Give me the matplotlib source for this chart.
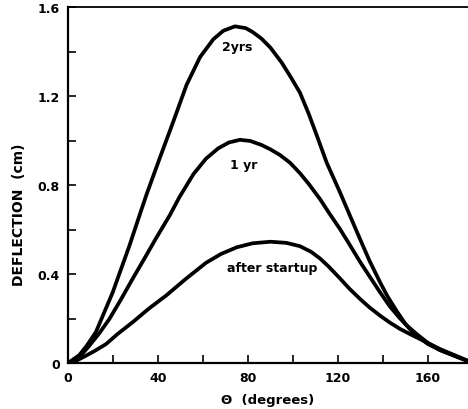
import matplotlib

matplotlib.use("Agg")
import matplotlib.pyplot as plt

# curves (theta in degrees, deflection in cm)
theta_2yrs = [0, 5, 8.5, 12.4, 16, 19.9, 23.5, 27.3, 32, 35, 40.9, 46.8,
              52.7, 58.7, 64.6, 69, 74.2, 79, 82, 86, 90, 95, 99, 103.1,
              107, 110.5, 115, 120.9, 125, 129.8, 134, 138.7, 142, 146,
              150, 153.5, 160, 166, 174.2, 180]
defl_2yrs = [0, 0.035, 0.08, 0.139, 0.225, 0.318, 0.42, 0.527, 0.67, 0.76,
             0.924, 1.085, 1.25, 1.375, 1.455, 1.493, 1.513, 1.505, 1.488,
             1.458, 1.417, 1.35, 1.285, 1.215, 1.12, 1.025, 0.9, 0.767,
             0.67, 0.557, 0.46, 0.363, 0.3, 0.235, 0.175, 0.135, 0.085,
             0.055, 0.022, 0]

theta_1yr = [0, 5, 9.5, 14, 18.4, 23.5, 28.7, 34, 39.1, 45.3, 49.5, 55.7,
             61.3, 66.8, 71.5, 76.4, 81, 86, 90, 94.2, 98.7, 103.1, 107,
             112, 116, 120.9, 125, 129.8, 134, 138.7, 143, 147.6, 151, 155,
             160, 165, 174.2, 180]
defl_1yr = [0, 0.025, 0.078, 0.135, 0.198, 0.285, 0.378, 0.47, 0.56, 0.665,
            0.745, 0.848, 0.918, 0.965, 0.991, 1.003, 0.998, 0.98, 0.96,
            0.935, 0.9, 0.853, 0.805, 0.737, 0.675, 0.602, 0.535, 0.455,
            0.39, 0.318, 0.255, 0.2, 0.165, 0.13, 0.09, 0.06, 0.024, 0]

theta_start = [0, 4, 8, 12, 16.9, 22, 28.7, 36, 43.6, 52, 61.3, 68, 75, 82,
               90, 97, 103.1, 108, 112, 116, 120.9, 125, 129.8, 134, 138.7,
               143, 147.6, 152, 156.4, 165.3, 174.2, 180]
defl_start = [0, 0.012, 0.033, 0.055, 0.085, 0.13, 0.183, 0.245, 0.303,
              0.375, 0.45, 0.49, 0.52, 0.538, 0.545, 0.54, 0.525, 0.5,
              0.47, 0.432, 0.38, 0.335, 0.288, 0.25, 0.213, 0.182, 0.153,
              0.13, 0.108, 0.063, 0.025, 0]

curve_labels = ["2yrs", "1 yr", "after startup"]
label_pos = [(75, 1.421), (78, 0.892), (90.7, 0.427)]

x_major = [0, 40, 80, 120, 160]
x_minor = [20, 60, 100, 140]
y_major = [0, 0.4, 0.8, 1.2, 1.6]
y_minor = [0.2, 0.6, 1.0, 1.4]

fig = plt.figure(figsize=(4.68, 4.10), dpi=100)
ax = fig.add_axes([68 / 468, 46 / 410, 400 / 468, 356 / 410])

for xs, ys in [(theta_2yrs, defl_2yrs), (theta_1yr, defl_1yr),
               (theta_start, defl_start)]:
    ax.plot(xs, ys, color="black", lw=2.7, solid_capstyle="round",
            solid_joinstyle="round")

for txt, (x, y) in zip(curve_labels, label_pos):
    ax.text(x, y, txt, ha="center", va="center", fontsize=9,
            fontweight="bold")

ax.set_xlim(0, 177.8)
ax.set_ylim(0, 1.6)
ax.set_xticks(x_major)
ax.set_xticklabels([str(v) for v in x_major])
ax.set_xticks(x_minor, minor=True)
ax.set_yticks(y_major)
ax.set_yticklabels(["0", "0.4", "0.8", "1.2", "1.6"])
ax.set_yticks(y_minor, minor=True)

ax.tick_params(which="both", direction="in", length=5.5, width=1.2,
               labelsize=9, pad=6)
for lab in ax.get_xticklabels() + ax.get_yticklabels():
    lab.set_fontweight("bold")

ax.spines["right"].set_visible(False)
for s in ["left", "bottom"]:
    ax.spines[s].set_linewidth(1.6)
ax.spines["top"].set_linewidth(1.3)

ax.set_xlabel("\u0398  (degrees)", fontsize=9.5, fontweight="bold",
              labelpad=6)
ax.set_ylabel("DEFLECTION  (cm)", fontsize=10, fontweight="bold")
ax.yaxis.set_label_coords(-0.105, 0.42)

fig.savefig("out.png", dpi=100)
